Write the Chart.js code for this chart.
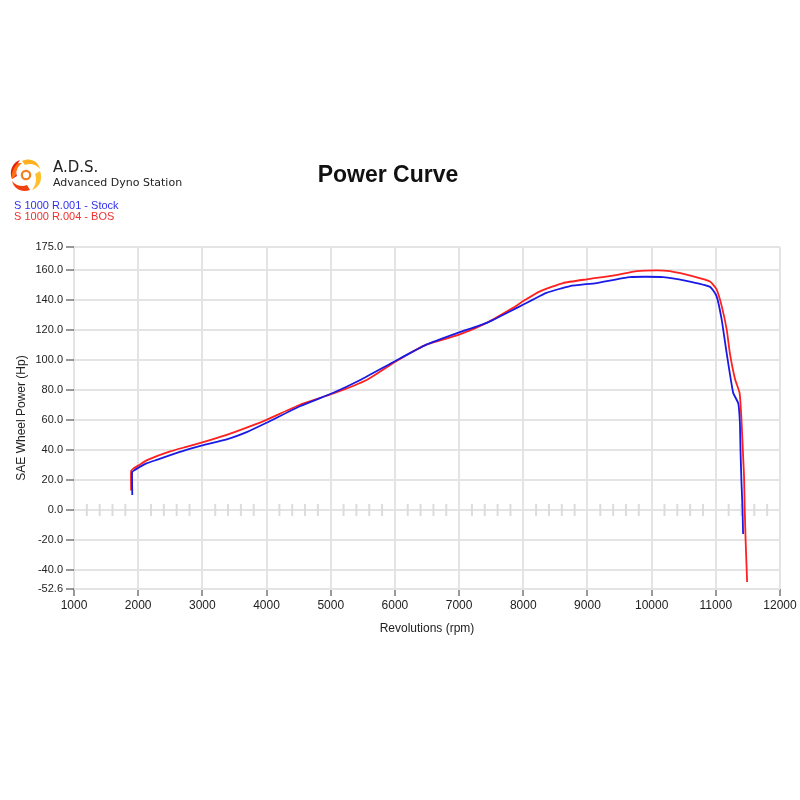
<!DOCTYPE html>
<html>
<head>
<meta charset="utf-8">
<script src="https://cdn.jsdelivr.net/npm/chart.js@4"></script>
<style>
  html, body { margin: 0; padding: 0; background: #fff; }
  #wrap { position: relative; width: 800px; height: 800px; }
  canvas { position: absolute; left: 0; top: 0; }
  .txt { position: absolute; white-space: nowrap; font-family: "Liberation Sans", Arial, sans-serif; }
</style>
</head>
<body>
<div id="wrap">
  <canvas id="c" width="800" height="800"></canvas>
  <svg style="position:absolute;left:6px;top:155px" width="40" height="40" viewBox="0 0 40 40">
    <g transform="translate(20,20)">
      <path d="M-4,-14 C4,-18 12,-14 14,-6 C10,-11 4,-12 -1,-10 Z" fill="#ffb020"/>
      <path d="M14,-4 C17,4 14,12 6,15 C10,10 11,4 9,-1 Z" fill="#ffc030"/>
      <path d="M4,15 C-4,18 -12,14 -14,6 C-10,11 -4,12 1,10 Z" fill="#f04010"/>
      <path d="M-14,4 C-17,-4 -14,-12 -6,-15 C-10,-10 -11,-4 -9,1 Z" fill="#e82010"/>
      <path d="M-8,-12 C-12,-8 -15,-2 -14,4 L-10,0 C-10,-5 -8,-9 -4,-12 Z" fill="#ff7010"/>
      <circle cx="0" cy="0" r="4.2" fill="none" stroke="#f08020" stroke-width="2.2"/>
    </g>
  </svg>
  <div class="txt" style="left:53px;top:158px;font-family:'DejaVu Sans',sans-serif;font-size:15px;color:#222;">A.D.S.</div>
  <div class="txt" style="left:53px;top:176px;font-family:'DejaVu Sans',sans-serif;font-size:11px;color:#222;">Advanced Dyno Station</div>
  <div class="txt" style="left:14px;top:200px;font-size:11px;color:#3030f0;line-height:11px;">S 1000 R.001 - Stock</div>
  <div class="txt" style="left:14px;top:211px;font-size:11px;color:#f03030;line-height:11px;">S 1000 R.004 - BOS</div>
  <div class="txt" style="left:0;width:776px;text-align:center;top:161px;font-size:23px;font-weight:bold;color:#111;">Power Curve</div>
</div>
<script>
// ---- data ----
const rpmStock = [1908, 1905, 1925, 2000, 2130, 2300, 2500, 2750, 3000, 3380, 3700, 4000, 4520, 5040, 5460, 6000, 6490, 6990, 7430, 7900, 8150, 8360, 8730, 9140, 9660, 10180, 10540, 10910, 11010, 11090, 11170, 11270, 11350, 11375, 11385, 11400, 11415, 11425];
const hpStock  = [10, 25, 26, 28, 31, 33.5, 36.5, 40, 43, 47, 52, 58, 69, 78, 86.5, 99, 110, 118, 124.5, 134.5, 140, 144.5, 149, 151, 155, 155, 152.5, 148.5, 142.5, 127, 104, 78, 71, 58, 39, 18, 2, -16];
const rpmBos   = [1890, 1890, 1924, 2000, 2130, 2300, 2500, 2750, 3000, 3380, 3700, 4000, 4520, 5040, 5560, 6000, 6490, 6990, 7430, 7840, 8000, 8260, 8620, 8990, 9400, 9770, 10080, 10280, 10650, 10910, 11010, 11090, 11170, 11220, 11300, 11370, 11400, 11425, 11440, 11450, 11465, 11488];
const hpBos    = [13, 26, 27.5, 29.5, 33, 36, 39, 42, 45, 50, 55, 60, 70, 77.5, 86.5, 98.5, 110, 116.5, 124.5, 134.5, 139, 145.5, 151, 153.5, 156, 159, 159.5, 159, 155.5, 152, 147, 136, 120, 104, 87, 78, 60, 36, 22, 1, -21, -48];
const yTickValues = [-52.6, -40, -20, 0, 20, 40, 60, 80, 100, 120, 140, 160, 175];
const xTickValues = [1000, 2000, 3000, 4000, 5000, 6000, 7000, 8000, 9000, 10000, 11000, 12000];
const minorRpmStep = 200;

const toPts = (xs, ys) => xs.map((x, i) => ({ x: x, y: ys[i] }));

const minorTicks = {
  id: 'minorTicks',
  beforeDatasetsDraw(chart) {
    const { ctx, scales: { x, y } } = chart;
    const y0 = y.getPixelForValue(0);
    ctx.save();
    ctx.strokeStyle = '#dcdcdc';
    ctx.lineWidth = 2;
    for (let v = x.min + minorRpmStep; v < x.max; v += minorRpmStep) {
      if (v % 1000 === 0) continue;
      const px = x.getPixelForValue(v);
      ctx.beginPath();
      ctx.moveTo(px, y0 - 6);
      ctx.lineTo(px, y0 + 6);
      ctx.stroke();
    }
    ctx.restore();
  }
};

new Chart(document.getElementById('c'), {
  type: 'scatter',
  data: {
    datasets: [
      { label: 'S 1000 R.001 - Stock', data: toPts(rpmStock, hpStock), showLine: true, borderColor: '#1a1ae6', borderWidth: 1.8, pointRadius: 0, tension: 0.15, fill: false },
      { label: 'S 1000 R.004 - BOS', data: toPts(rpmBos, hpBos), showLine: true, borderColor: '#ff2020', borderWidth: 1.8, pointRadius: 0, tension: 0.15, fill: false }
    ]
  },
  options: {
    responsive: false,
    animation: false,
    devicePixelRatio: 1,
    layout: { padding: { left: 14, right: 20, top: 247, bottom: 160 } },
    plugins: { legend: { display: false }, title: { display: false }, tooltip: { enabled: false } },
    scales: {
      x: {
        type: 'linear', min: 1000, max: 12000,
        afterBuildTicks(s) { s.ticks = xTickValues.map(v => ({ value: v })); },
        afterFit(s) { s.height = 51; },
        grid: { color: '#e4e4e4', lineWidth: 2, tickColor: '#333', tickLength: 7, tickWidth: 1 },
        border: { display: false },
        ticks: { color: '#222', font: { family: 'Liberation Sans', size: 12 }, padding: 2, maxRotation: 0, callback: v => String(v) },
        title: { display: true, text: 'Revolutions (rpm)', color: '#222', font: { family: 'Liberation Sans', size: 12 } }
      },
      y: {
        type: 'linear', min: -52.6, max: 175,
        afterBuildTicks(s) { s.ticks = yTickValues.map(v => ({ value: v })); },
        afterFit(s) { s.width = 60; },
        grid: { color: '#e4e4e4', lineWidth: 2, tickColor: '#333', tickLength: 8, tickWidth: 1 },
        border: { display: false },
        ticks: { color: '#222', font: { family: 'Liberation Sans', size: 11 }, padding: 3, callback: v => Number(v).toFixed(1) },
        title: { display: true, text: 'SAE Wheel Power (Hp)', color: '#222', font: { family: 'Liberation Sans', size: 12 }, padding: { top: 0, bottom: 2 } }
      }
    }
  },
  plugins: [minorTicks]
});
</script>
</body>
</html>
